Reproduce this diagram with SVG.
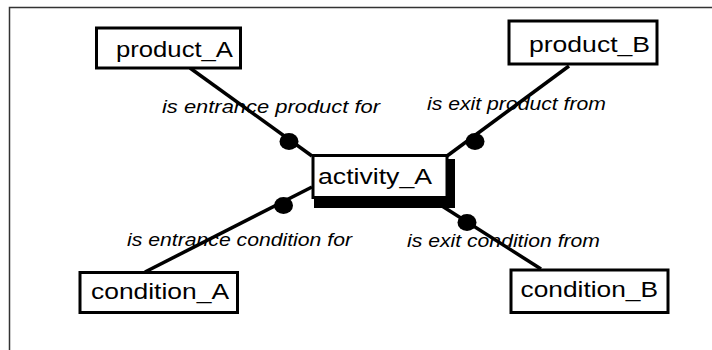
<svg xmlns="http://www.w3.org/2000/svg" width="712" height="350" viewBox="0 0 712 350">
<style>
.frame{fill:none;stroke:#333;stroke-width:1.5}
.box{fill:#fff;stroke:#000;stroke-width:3}
.shadow{fill:#000}
.conn{stroke:#000;stroke-width:3.5;fill:none}
.dot{fill:#000}
.name{font-family:"Liberation Sans",Arial,sans-serif;font-size:22.5px;fill:#000}
.lbl{font-family:"Liberation Sans",Arial,sans-serif;font-size:18px;font-style:italic;fill:#000}
</style>
<rect width="712" height="350" fill="#fff"/>
<path class="frame" d="M9.5 350 V7.5 H712"/>
<g id="connectors">
<line class="conn" x1="190" y1="68" x2="312" y2="156"/>
<ellipse class="dot" cx="289" cy="141.5" rx="9.5" ry="8.5"/>
<line class="conn" x1="569" y1="66" x2="447" y2="156"/>
<ellipse class="dot" cx="475" cy="141.5" rx="9.5" ry="8.5"/>
<line class="conn" x1="145" y1="272" x2="312" y2="187"/>
<ellipse class="dot" cx="283.5" cy="205.5" rx="9.5" ry="8.5"/>
<line class="conn" x1="442" y1="206" x2="541" y2="269"/>
<ellipse class="dot" cx="467" cy="222.5" rx="9.5" ry="8.5"/>
<text class="lbl" x="162" y="112.5" textLength="218" lengthAdjust="spacingAndGlyphs">is entrance product for</text>
<text class="lbl" x="427" y="110" textLength="179" lengthAdjust="spacingAndGlyphs">is exit product from</text>
<text class="lbl" x="127" y="245.5" textLength="225" lengthAdjust="spacingAndGlyphs">is entrance condition for</text>
<text class="lbl" x="407" y="246.5" textLength="193" lengthAdjust="spacingAndGlyphs">is exit condition from</text>
</g>
<g id="product_A">
<rect class="box" x="96.5" y="28" width="144" height="40"/>
<text class="name" x="116" y="57" textLength="117" lengthAdjust="spacingAndGlyphs">product_A</text>
</g>
<g id="product_B">
<rect class="box" x="509" y="21" width="148" height="43"/>
<text class="name" x="529" y="51.5" textLength="121" lengthAdjust="spacingAndGlyphs">product_B</text>
</g>
<g id="activity_A">
<rect class="shadow" x="314" y="159" width="141" height="49"/>
<rect class="box" x="313" y="155.5" width="134" height="42"/>
<text class="name" x="318" y="184" textLength="114" lengthAdjust="spacingAndGlyphs">activity_A</text>
</g>
<g id="condition_A">
<rect class="box" x="80" y="272.5" width="157.5" height="40"/>
<text class="name" x="91" y="299" textLength="138" lengthAdjust="spacingAndGlyphs">condition_A</text>
</g>
<g id="condition_B">
<rect class="box" x="511" y="270" width="157" height="42.5"/>
<text class="name" x="520.5" y="296.5" textLength="137.5" lengthAdjust="spacingAndGlyphs">condition_B</text>
</g>
</svg>
